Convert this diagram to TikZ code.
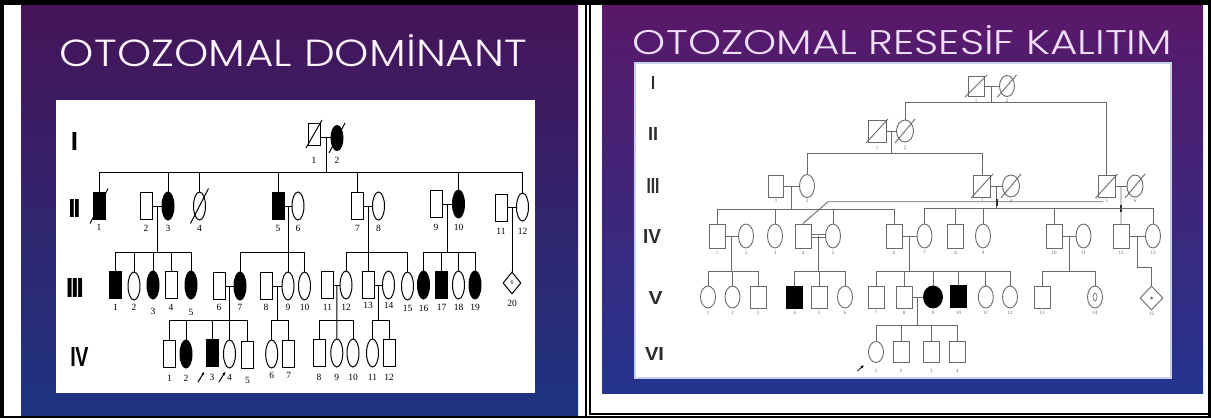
\documentclass[tikz,border=0pt]{standalone}
\usepackage{fontspec}
\setmainfont{Liberation Serif}
\setsansfont{Liberation Sans}
\newfontfamily\titlefont{Poppins}[UprightFont=* Light]
\usetikzlibrary{shapes.geometric,arrows.meta,calc}
\definecolor{rg}{RGB}{105,105,105}
\definecolor{rgd}{RGB}{45,45,45}
\definecolor{sLt}{RGB}{70,20,88}
\definecolor{sLm}{RGB}{50,34,112}
\definecolor{sLb}{RGB}{30,52,130}
\definecolor{sRt}{RGB}{90,24,104}
\definecolor{sRm}{RGB}{60,36,120}
\definecolor{sRb}{RGB}{36,52,142}
\definecolor{tL}{RGB}{255,244,255}
\definecolor{tR}{RGB}{240,222,248}
\definecolor{boxedge}{RGB}{200,210,235}
\newcommand\Lper[6]{\node[#1] (#2) at (#3,#4) {}; \node[lab] (#2l) at (#3,#6) {#5};}
\newcommand\Rper[6]{\node[#1] (#2) at (#3,#4) {}; \node[rlab] (#2l) at (#3,#6) {#5};}
\newcommand\dec[4]{\draw[#1] ($(#2.center)+(-#3,-#4)$) -- ($(#2.center)+(#3,#4)$);}
\begin{document}
\begin{tikzpicture}[x=1pt,y=-1pt,
  lline/.style={line width=1pt,draw=black},
  lsym/.style={draw=black,line width=1pt,fill=white,inner sep=0pt},
  lm/.style={lsym,rectangle,minimum width=12pt,minimum height=27pt},
  lf/.style={lsym,ellipse,minimum width=12pt,minimum height=28pt},
  blk/.style={fill=black},
  rline/.style={line width=0.9pt,draw=rg},
  rsym/.style={draw=rg,line width=0.9pt,fill=white,inner sep=0pt},
  rm/.style={rsym,rectangle,minimum width=16pt,minimum height=22pt},
  rf/.style={rsym,ellipse,minimum width=15pt,minimum height=22pt},
  rblk/.style={fill=black,draw=black},
  lab/.style={font=\fontsize{9.5}{9.5}\selectfont,inner sep=0pt},
  rlab/.style={font=\fontsize{5}{5}\selectfont,text=rg,inner sep=0pt},
  gen/.style={inner sep=0pt,font=\sffamily\bfseries},
  prob/.style={-{Latex[length=3.5pt,width=3pt]},line width=1pt,black}
]
\useasboundingbox (0,0) rectangle (1211,418);
\fill[white] (0,0) rectangle (1211,418);
% slides
\shade[top color=sLt,middle color=sLm,bottom color=sLb] (21,5) rectangle (578,415);
\shade[top color=sRt,middle color=sRm,bottom color=sRb] (602,5) rectangle (1203,393);
\fill[white] (56,100) rectangle (535,393);
\filldraw[fill=white,draw=boxedge,line width=1.2pt] (635,63) rectangle (1171,378);
% frame
\draw[line width=5pt] (0,2.5) -- (1211,2.5);
\draw[line width=4pt] (2,0) -- (2,418);
\draw[line width=3pt] (1209.5,0) -- (1209.5,418);
\draw[line width=2pt] (586,0) -- (586,418);
\draw[line width=2pt] (590,0) -- (590,413.5) -- (1211,413.5);
\draw[line width=2.5pt] (0,416.8) -- (1211,416.8);
% titles
\node[inner sep=0pt,text=tL] (t1) at (293.5,51) {\resizebox{467pt}{32pt}{\titlefont OTOZOMAL DOMİNANT}};
\node[inner sep=0pt,text=tR] (t2) at (902.5,40.5) {\resizebox{539pt}{29pt}{\titlefont OTOZOMAL RESESİF KALITIM}};
% ===== left generation numerals
\node[gen] (gaI) at (74.5,141) {\resizebox{!}{18pt}{I}};
\node[gen] (gaII) at (74.5,208) {\resizebox{!}{18pt}{I\kern-0.8pt I}};
\node[gen] (gaIII) at (75,288) {\resizebox{!}{19pt}{I\kern-0.9pt I\kern-0.9pt I}};
\node[gen] (gaIV) at (79.5,357) {\resizebox{18pt}{19pt}{I\kern-0.3pt V}};
% ===== left pedigree
% Gen I
\Lper{lm,minimum height=22pt}{aI1}{314}{134}{1}{160}
\Lper{lf,blk,minimum height=25pt}{aI2}{337}{138}{2}{160}
\coordinate (mI) at (326,137);
\draw[lline] (aI1.east |- mI) -- (aI2.west |- mI);
\dec{lline}{aI1}{8pt}{14pt}
\dec{lline}{aI2}{8pt}{15pt}
\coordinate (s1) at (326,172);
% Gen II
\Lper{lm,blk}{aII1}{99}{206}{1}{227}
\Lper{lm}{aII2}{146}{206}{2}{228}
\Lper{lf,blk}{aII3}{168}{206}{3}{228}
\Lper{lf}{aII4}{199.5}{206}{4}{228}
\Lper{lm,blk}{aII5}{278}{206}{5}{228}
\Lper{lf}{aII6}{298}{206}{6}{228}
\Lper{lm}{aII7}{357.5}{206}{7}{228}
\Lper{lf}{aII8}{378.5}{206}{8}{228}
\Lper{lm}{aII9}{436}{204}{9}{227}
\Lper{lf,blk}{aII10}{458.5}{204}{10}{227}
\Lper{lm}{aII11}{501}{208}{11}{231}
\Lper{lf}{aII12}{522.5}{207}{12}{231}
\dec{lline}{aII1}{9pt}{17.5pt}
\dec{lline}{aII4}{9pt}{17.5pt}
\draw[lline] (mI) -- (s1);
\draw[lline] (aII1.north |- s1) -- (aII12.north |- s1);
\foreach \n in {aII1,aII3,aII4,aII5,aII7,aII10,aII12} \draw[lline] (\n.north) -- (\n.north |- s1);
\draw[lline] (aII2) -- (aII3);
\draw[lline] (aII5) -- (aII6);
\draw[lline] (aII7) -- (aII8);
\draw[lline] (aII9) -- (aII10);
\draw[lline] (aII11.east |- 0,207) -- (aII12.west);
\coordinate (m23) at ($(aII2.east)!0.5!(aII3.west)$);
\coordinate (m56) at ($(aII5.east)!0.5!(aII6.west)$);
\coordinate (m78) at ($(aII7.east)!0.5!(aII8.west)$);
\coordinate (m910) at ($(aII9.east)!0.5!(aII10.west)$);
\coordinate (m1112) at (512,207);
\coordinate (s2) at (0,252);
% Gen III
\Lper{lm,blk}{aIII1}{115.5}{285}{1}{307}
\Lper{lf}{aIII2}{134}{286}{2}{307}
\Lper{lf,blk}{aIII3}{153}{285}{3}{311}
\Lper{lm}{aIII4}{171}{285}{4}{307}
\Lper{lf,blk}{aIII5}{191}{285}{5}{312}
\Lper{lm}{aIII6}{219}{286}{6}{307}
\Lper{lf,blk}{aIII7}{240}{286}{7}{307}
\Lper{lm}{aIII8}{266}{286}{8}{307}
\Lper{lf}{aIII9}{288}{286}{9}{307}
\Lper{lf}{aIII10}{304.5}{286}{10}{307}
\Lper{lm}{aIII11}{327.5}{285}{11}{307}
\Lper{lf}{aIII12}{346}{285}{12}{307}
\Lper{lm}{aIII13}{368}{285}{13}{305}
\Lper{lf}{aIII14}{388.5}{285}{14}{305}
\Lper{lf}{aIII15}{407.5}{286}{15}{308}
\Lper{lf,blk}{aIII16}{423.5}{285}{16}{308}
\Lper{lm,blk}{aIII17}{441.5}{285}{17}{307}
\Lper{lf}{aIII18}{458.5}{285}{18}{307}
\Lper{lf,blk}{aIII19}{475}{285}{19}{307}
\node[lsym,diamond,minimum width=18pt,minimum height=22pt,font=\fontsize{6}{6}\selectfont] (aIII20) at (512,283) {6};
\node[lab] (aIII20l) at (512,303) {20};
\draw[lline] (m23) -- (m23 |- s2);
\draw[lline] (m56) -- (m56 |- s2);
\draw[lline] (m78) -- (aIII13.north);
\draw[lline] (m910) -- (m910 |- s2);
\draw[lline] (m1112) -- (aIII20.north);
\draw[lline] (aIII1.north |- s2) -- (aIII5.north |- s2);
\draw[lline] (aIII7.north |- s2) -- (aIII10.north |- s2);
\draw[lline] (aIII12.north |- s2) -- (aIII15.north |- s2);
\draw[lline] (aIII16.north |- s2) -- (aIII19.north |- s2);
\foreach \n in {aIII1,aIII2,aIII3,aIII4,aIII5,aIII7,aIII9,aIII10,aIII12,aIII15,aIII16,aIII17,aIII18,aIII19} \draw[lline] (\n.north) -- (\n.north |- s2);
\draw[lline] (aIII6) -- (aIII7);
\draw[lline] (aIII8) -- (aIII9);
\draw[lline] (aIII11) -- (aIII12);
\draw[lline] (aIII13) -- (aIII14);
\coordinate (n67) at ($(aIII6.east)!0.5!(aIII7.west)$);
\coordinate (n89) at ($(aIII8.east)!0.5!(aIII9.west)$);
\coordinate (n1112) at ($(aIII11.east)!0.5!(aIII12.west)$);
\coordinate (n1314) at ($(aIII13.east)!0.5!(aIII14.west)$);
\coordinate (s3) at (0,320);
% Gen IV
\Lper{lm}{aIV1}{169.5}{354}{1}{378}
\Lper{lf,blk}{aIV2}{186}{354}{2}{378}
\Lper{lm,blk}{aIV3}{212}{353}{3}{377}
\Lper{lf}{aIV4}{229.5}{354}{4}{377}
\Lper{lm}{aIV5}{247.5}{355}{5}{380}
\Lper{lf}{aIV6}{271.7}{354}{6}{375}
\Lper{lm}{aIV7}{288.7}{354}{7}{375}
\Lper{lm}{aIV8}{319}{353}{8}{377}
\Lper{lf}{aIV9}{336.8}{353}{9}{377}
\Lper{lf}{aIV10}{353}{353}{10}{377}
\Lper{lf}{aIV11}{372.5}{353}{11}{377}
\Lper{lm}{aIV12}{389}{353}{12}{377}
\draw[lline] (n67) -- (n67 |- s3);
\draw[lline] (n89) -- (n89 |- s3);
\draw[lline] (n1112) -- (aIV9.north);
\draw[lline] (n1314) -- (n1314 |- s3);
\draw[lline] (aIV1.north |- s3) -- (aIV5.north |- s3);
\draw[lline] (aIV6.north |- s3) -- (aIV7.north |- s3);
\draw[lline] (aIV8.north |- s3) -- (aIV10.north |- s3);
\draw[lline] (aIV11.north |- s3) -- (aIV12.north |- s3);
\foreach \n in {aIV1,aIV2,aIV3,aIV4,aIV5,aIV6,aIV7,aIV8,aIV10,aIV11,aIV12} \draw[lline] (\n.north) -- (\n.north |- s3);
\coordinate (pa1) at (198,382); \coordinate (pb1) at (204.5,371.5);
\coordinate (pa2) at (219,382); \coordinate (pb2) at (225.5,371.5);
\draw[prob] (pa1) -- (pb1);
\draw[prob] (pa2) -- (pb2);
% ===== right generation numerals
\node[gen,text=rgd] (gbI) at (653,83) {\resizebox{4pt}{13pt}{I}};
\node[gen,text=rgd] (gbII) at (653,133.5) {\resizebox{10pt}{13pt}{II}};
\node[gen,text=rgd] (gbIII) at (653,185.5) {\resizebox{13pt}{15pt}{III}};
\node[gen,text=rgd] (gbIV) at (652,236) {\resizebox{18pt}{14pt}{IV}};
\node[gen,text=rgd] (gbV) at (655.5,298) {\resizebox{14pt}{13pt}{V}};
\node[gen,text=rgd] (gbVI) at (654.5,353.5) {\resizebox{19pt}{13pt}{VI}};
% ===== right pedigree
% Gen I
\Rper{rm,minimum height=20pt}{bI1}{976}{86}{1}{101}
\Rper{rf,minimum height=21pt}{bI2}{1007}{86}{2}{101}
\dec{rline}{bI1}{11pt}{11pt}
\dec{rline}{bI2}{9.5pt}{11pt}
\draw[rline] (bI1) -- (bI2);
\coordinate (mbI) at ($(bI1.east)!0.5!(bI2.west)$);
\coordinate (t1s) at (0,102);
% Gen II
\Rper{rm,minimum width=18pt}{bII1}{877}{131}{1}{148}
\Rper{rf,minimum width=17pt}{bII2}{905}{131}{2}{148}
\dec{rline}{bII1}{11pt}{12pt}
\dec{rline}{bII2}{10pt}{12pt}
\draw[rline] (bII1) -- (bII2);
\coordinate (mbII) at ($(bII1.east)!0.5!(bII2.west)$);
\coordinate (t2s) at (0,153);
% Gen III
\Rper{rm,minimum width=15pt}{bIII1}{776}{186}{1}{201}
\Rper{rf,minimum height=23pt}{bIII2}{807}{186}{2}{201}
\Rper{rm,minimum width=17pt}{bIII3}{982}{186}{3}{201}
\Rper{rf,minimum width=17pt}{bIII4}{1011}{186}{4}{201}
\Rper{rm,minimum width=17pt}{bIII5}{1106.5}{186}{5}{201}
\Rper{rf,minimum width=16pt}{bIII6}{1135}{186}{6}{201}
\dec{rline}{bIII3}{11pt}{12pt}
\dec{rline}{bIII4}{10pt}{12pt}
\dec{rline}{bIII5}{11pt}{12pt}
\dec{rline}{bIII6}{10pt}{12pt}
\draw[rline] (mbI) -- (mbI |- t1s);
\draw[rline] (bII2.north |- t1s) -- (bIII5.north |- t1s);
\draw[rline] (bII2.north) -- (bII2.north |- t1s);
\draw[rline] (bIII5.north) -- (bIII5.north |- t1s);
\draw[rline] (mbII) -- (mbII |- t2s);
\draw[rline] (bIII2.north |- t2s) -- (bIII3.north |- t2s);
\draw[rline] (bIII2.north) -- (bIII2.north |- t2s);
\draw[rline] (bIII3.north) -- (bIII3.north |- t2s);
\draw[rline] (bIII1) -- (bIII2);
\draw[rline] (bIII3) -- (bIII4);
\draw[rline] (bIII5) -- (bIII6);
\coordinate (mb12) at ($(bIII1.east)!0.5!(bIII2.west)$);
\coordinate (mb34) at ($(bIII3.east)!0.5!(bIII4.west)$);
\coordinate (mb56) at ($(bIII5.east)!0.5!(bIII6.west)$);
\coordinate (t3a) at (0,209);
\coordinate (t3b) at (0,208);
% Gen IV
\Rper{rm,minimum height=24pt}{bIV1}{717}{236}{1}{253}
\Rper{rf,minimum height=24pt}{bIV2}{746}{236}{2}{253}
\Rper{rf,minimum height=24pt}{bIV3}{775}{236}{3}{253}
\Rper{rm,minimum height=24pt}{bIV4}{803}{236}{4}{253}
\Rper{rf,minimum height=24pt}{bIV5}{833}{236}{5}{253}
\Rper{rm,minimum height=24pt}{bIV6}{894}{236}{6}{253}
\Rper{rf,minimum height=24pt}{bIV7}{924.5}{236}{7}{253}
\Rper{rm,minimum height=24pt}{bIV8}{955.6}{236}{8}{253}
\Rper{rf,minimum height=24pt}{bIV9}{983}{236}{9}{253}
\Rper{rm,minimum height=24pt}{bIV10}{1054}{236}{10}{253}
\Rper{rf,minimum height=24pt}{bIV11}{1083.5}{236}{11}{253}
\Rper{rm,minimum height=24pt}{bIV12}{1121}{236}{12}{253}
\Rper{rf,minimum height=24pt}{bIV13}{1153}{236}{13}{253}
\coordinate (cA) at (828,201.7);
\coordinate (cB) at (1103,201.7);
\draw[rline] (bIV4.north) -- (cA) -- (cB);
\draw[rline] (mb12) -- (mb12 |- t3a);
\draw[rline] (mb34) -- (mb34 |- t3b);
\draw[rline] (mb56) -- (bIV12.north);
\draw[line width=2pt,draw=rgd] (997,199) -- (997,205.5);
\draw[line width=2pt,draw=rgd] (1121,205) -- (1121,211.5);
\draw[rline] (bIV1.north |- t3a) -- (bIV6.north |- t3a);
\foreach \n in {bIV1,bIV3,bIV5,bIV6} \draw[rline] (\n.north) -- (\n.north |- t3a);
\draw[rline] (bIV7.north |- t3b) -- (bIV13.north |- t3b);
\foreach \n in {bIV7,bIV8,bIV9,bIV10,bIV13} \draw[rline] (\n.north) -- (\n.north |- t3b);
\draw[rline] (bIV1) -- (bIV2);
\draw[rline] ([yshift=1.5pt]bIV4.east) -- ([yshift=1.5pt]bIV5.west);
\draw[rline] ([yshift=-1.5pt]bIV4.east) -- ([yshift=-1.5pt]bIV5.west);
\draw[rline] (bIV6) -- (bIV7);
\draw[rline] (bIV10) -- (bIV11);
\draw[rline] (bIV12) -- (bIV13);
\coordinate (mc12) at ($(bIV1.east)!0.5!(bIV2.west)$);
\coordinate (mc45) at ($(bIV4.east)!0.5!(bIV5.west)$);
\coordinate (mc67) at ($(bIV6.east)!0.5!(bIV7.west)$);
\coordinate (mc1011) at ($(bIV10.east)!0.5!(bIV11.west)$);
\coordinate (mc1213) at ($(bIV12.east)!0.5!(bIV13.west)$);
\coordinate (t4) at (0,271);
% Gen V
\Rper{rf}{bV1}{708}{297}{1}{313}
\Rper{rf}{bV2}{732.5}{297}{2}{313}
\Rper{rm}{bV3}{758}{297}{3}{313}
\Rper{rm,rblk}{bV4}{794.6}{297}{4}{313}
\Rper{rm}{bV5}{819}{297}{5}{313}
\Rper{rf}{bV6}{845}{297}{6}{313}
\Rper{rm}{bV7}{876}{297}{7}{313}
\Rper{rm}{bV8}{904}{297}{8}{313}
\Rper{rf,rblk,minimum width=19pt}{bV9}{933}{297}{9}{313}
\Rper{rm,rblk}{bV10}{958.5}{296}{10}{313}
\Rper{rf}{bV11}{985.8}{297}{11}{313}
\Rper{rf}{bV12}{1010}{297}{12}{313}
\Rper{rm}{bV13}{1042}{297}{13}{313}
\Rper{rf}{bV14}{1095}{297}{14}{313}
\node[rsym,diamond,minimum width=23pt,minimum height=24pt] (bV15) at (1151.5,298) {};
\node[rlab] (bV15l) at (1151.5,314) {15};
\node[draw=rg,ellipse,line width=0.6pt,minimum width=4pt,minimum height=8pt,inner sep=0pt] (bV14d) at (bV14) {};
\node[circle,fill=rg,minimum size=3pt,inner sep=0pt] (bV15d) at (bV15) {};
\draw[rline] (mc12) -- (mc12 |- t4);
\draw[rline] (mc45) -- (mc45 |- t4);
\draw[rline] (mc67) -- (mc67 |- t4);
\draw[rline] (mc1011) -- (mc1011 |- t4);
\coordinate (k1) at ($(mc1213)+(0,31)$);
\draw[rline] (mc1213) -- (k1) -- (k1 -| bV15.north) -- (bV15.north);
\draw[rline] (bV1.north |- t4) -- (bV3.north |- t4);
\draw[rline] (bV4.north |- t4) -- (bV6.north |- t4);
\draw[rline] (bV7.north |- t4) -- (bV12.north |- t4);
\draw[rline] (bV13.north |- t4) -- (bV14.north |- t4);
\foreach \n in {bV1,bV2,bV3,bV4,bV5,bV6,bV7,bV8,bV9,bV10,bV11,bV12,bV13,bV14} \draw[rline] (\n.north) -- (\n.north |- t4);
\draw[rline] (bV8) -- (bV9);
\coordinate (md89) at ($(bV8.east)!0.5!(bV9.west)$);
\coordinate (t5) at (0,325);
% Gen VI
\Rper{rf,minimum height=21pt}{bVI1}{876}{352}{1}{371}
\Rper{rm,minimum height=21pt}{bVI2}{901}{352}{2}{371}
\Rper{rm,minimum height=21pt}{bVI3}{931}{352}{3}{371}
\Rper{rm,minimum height=21pt}{bVI4}{957}{352}{4}{371}
\draw[rline] (md89) -- (md89 |- t5);
\draw[rline] (bVI1.north |- t5) -- (bVI4.north |- t5);
\foreach \n in {bVI1,bVI2,bVI3,bVI4} \draw[rline] (\n.north) -- (\n.north |- t5);
\coordinate (pa3) at (857.5,371); \coordinate (pb3) at (864,365);
\draw[prob,line width=0.8pt] (pa3) -- (pb3);
\end{tikzpicture}
\end{document}
